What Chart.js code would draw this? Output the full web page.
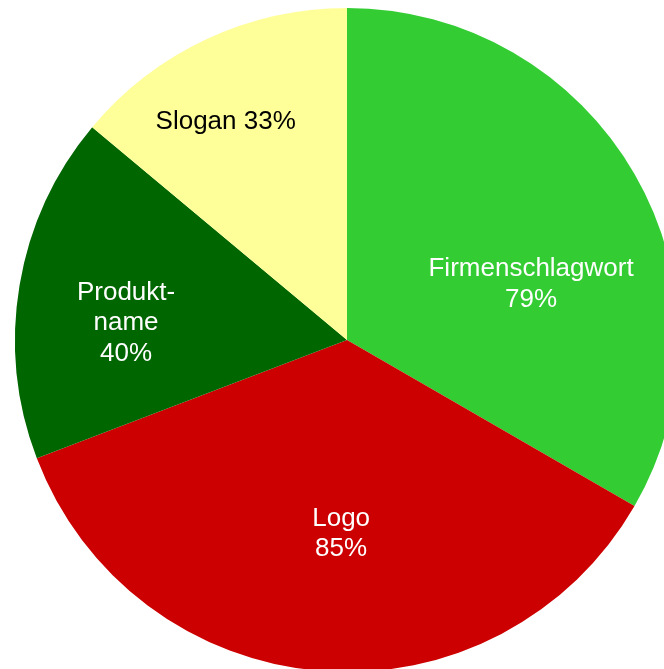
<!DOCTYPE html>
<html>
<head>
<meta charset="utf-8">
<script src="https://cdn.jsdelivr.net/npm/chart.js@4/dist/chart.umd.min.js"></script>
<style>
html, body { margin: 0; padding: 0; background: #ffffff; overflow: hidden; width: 664px; height: 669px; }
#wrap { position: absolute; left: 0; top: 0; width: 694px; height: 680px; }
</style>
</head>
<body>
<div id="wrap"><canvas id="c"></canvas></div>
<script>
const categories = ['Firmenschlagwort', 'Logo', 'Produktname', 'Slogan'];
const values = [79, 85, 40, 33];
const percentLabels = ['79%', '85%', '40%', '33%'];
const labelLines = [
  ['Firmenschlagwort', '79%'],
  ['Logo', '85%'],
  ['Produkt-', 'name', '40%'],
  ['Slogan 33%']
];
const colors = ['#33CC33', '#CC0000', '#006600', '#FFFF99'];
const labelColors = ['#ffffff', '#ffffff', '#ffffff', '#000000'];
// label placement relative to each slice: angle offset (deg) from mid-angle, radius fraction
const labelAngleOffset = [12.6, -2.8, -4.5, -3.8];
const labelRadiusFrac = [0.581, 0.577, 0.668, 0.757];

const FONT_SIZE = 26;
const LINE_H = 30.5;

const sliceLabels = {
  id: 'sliceLabels',
  afterDatasetsDraw(chart) {
    const ctx = chart.ctx;
    const meta = chart.getDatasetMeta(0);
    ctx.save();
    ctx.font = FONT_SIZE + 'px "Liberation Sans", Arial, sans-serif';
    ctx.textAlign = 'center';
    ctx.textBaseline = 'alphabetic';
    meta.data.forEach((arc, i) => {
      const p = arc.getProps(['x', 'y', 'startAngle', 'endAngle', 'outerRadius'], true);
      const mid = (p.startAngle + p.endAngle) / 2 + labelAngleOffset[i] * Math.PI / 180;
      const r = p.outerRadius * labelRadiusFrac[i];
      const cx = p.x + Math.cos(mid) * r;
      const cy = p.y + Math.sin(mid) * r;
      const lines = labelLines[i];
      const capHalf = FONT_SIZE * 0.716 / 2;
      const firstCenter = cy - (lines.length - 1) * LINE_H / 2;
      ctx.fillStyle = labelColors[i];
      lines.forEach((t, k) => {
        ctx.fillText(t, cx, firstCenter + k * LINE_H + capHalf);
      });
    });
    ctx.restore();
  }
};

new Chart(document.getElementById('c'), {
  type: 'pie',
  data: {
    labels: categories,
    datasets: [{
      data: values,
      backgroundColor: colors,
      borderWidth: 0,
      hoverOffset: 0
    }]
  },
  options: {
    responsive: true,
    maintainAspectRatio: false,
    animation: false,
    layout: { padding: 8 },
    plugins: {
      legend: { display: false },
      tooltip: { enabled: false }
    }
  },
  plugins: [sliceLabels]
});
</script>
</body>
</html>
